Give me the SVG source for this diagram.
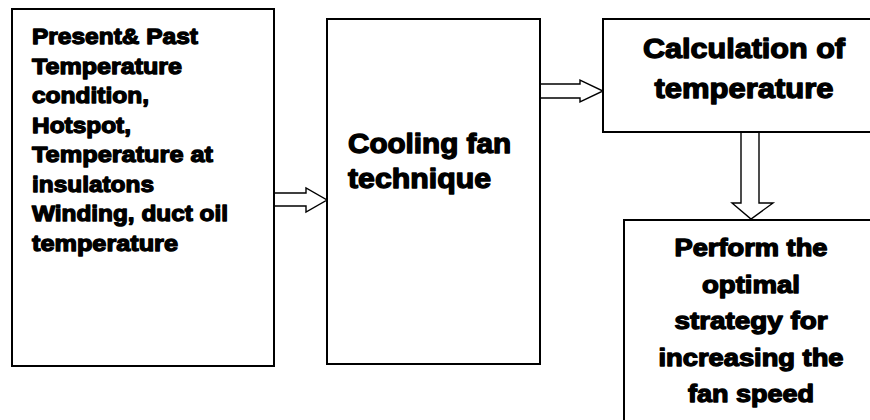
<svg xmlns="http://www.w3.org/2000/svg" width="870" height="420" viewBox="0 0 870 420">
<style>
.box{fill:#fff;stroke:#000;stroke-width:2}
.arrow{fill:#fff;stroke:#000;stroke-width:1.4;stroke-linejoin:miter}
text{font-family:"Liberation Sans",Arial,sans-serif;font-weight:bold;fill:#000;stroke:#000;stroke-width:1.3;stroke-linejoin:round}
.s22{font-size:22.5px}
.s27{font-size:27px}
.s24{font-size:23.5px}
.c{text-anchor:middle}
</style>
<rect width="870" height="420" fill="#fff"/>
<g id="connectors">
<polygon class="arrow" points="274,193 306,193 306,188 327,200 306,212 306,206 274,206"/>
<polygon class="arrow" points="540,84 580,84 580,80 603,91 580,102 580,98 540,98"/>
<polygon class="arrow" points="741,132 741,203 732,203 751,219 773,203 759,203 759,132"/>
</g>
<g id="node-inputs">
<rect class="box" x="12" y="9" width="262" height="357"/>
<text class="s22" x="32" y="44" textLength="166" lengthAdjust="spacingAndGlyphs">Present&amp; Past</text>
<text class="s22" x="32" y="73.5" textLength="150" lengthAdjust="spacingAndGlyphs">Temperature</text>
<text class="s22" x="32" y="103" textLength="117" lengthAdjust="spacingAndGlyphs">condition,</text>
<text class="s22" x="32" y="132.5" textLength="99" lengthAdjust="spacingAndGlyphs">Hotspot,</text>
<text class="s22" x="32" y="162" textLength="181" lengthAdjust="spacingAndGlyphs">Temperature at</text>
<text class="s22" x="32" y="191.5" textLength="122" lengthAdjust="spacingAndGlyphs">insulatons</text>
<text class="s22" x="32" y="221" textLength="196" lengthAdjust="spacingAndGlyphs">Winding, duct oil</text>
<text class="s22" x="32" y="250.5" textLength="146" lengthAdjust="spacingAndGlyphs">temperature</text>
</g>
<g id="node-cooling">
<rect class="box" x="327" y="19" width="213" height="345"/>
<text class="s27" x="348" y="153" textLength="163" lengthAdjust="spacingAndGlyphs">Cooling fan</text>
<text class="s27" x="348" y="188" textLength="143" lengthAdjust="spacingAndGlyphs">technique</text>
</g>
<g id="node-calculation">
<rect class="box" x="603" y="19" width="280" height="113"/>
<text class="s27 c" x="744" y="58" textLength="202" lengthAdjust="spacingAndGlyphs">Calculation of</text>
<text class="s27 c" x="744" y="98" textLength="179" lengthAdjust="spacingAndGlyphs">temperature</text>
</g>
<g id="node-strategy">
<rect class="box" x="624" y="220" width="260" height="210"/>
<text class="s24 c" x="751" y="256" textLength="153" lengthAdjust="spacingAndGlyphs">Perform the</text>
<text class="s24 c" x="751" y="292.5" textLength="98" lengthAdjust="spacingAndGlyphs">optimal</text>
<text class="s24 c" x="751" y="329" textLength="153" lengthAdjust="spacingAndGlyphs">strategy for</text>
<text class="s24 c" x="751" y="366" textLength="185" lengthAdjust="spacingAndGlyphs">increasing the</text>
<text class="s24 c" x="751" y="402" textLength="126" lengthAdjust="spacingAndGlyphs">fan speed</text>
</g>
</svg>
